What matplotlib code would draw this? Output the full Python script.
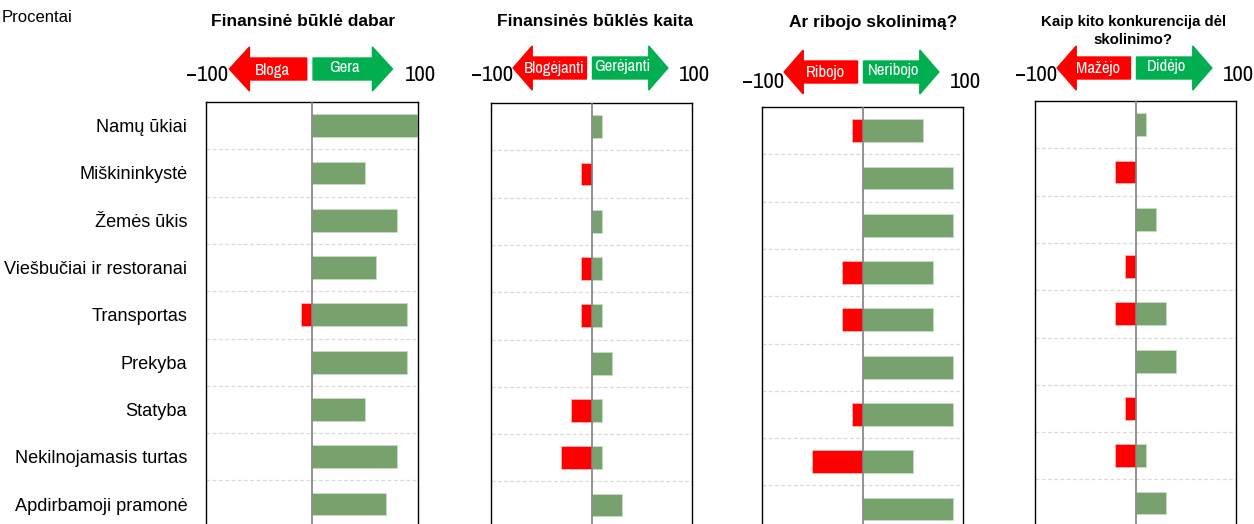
import numpy as np
import matplotlib
matplotlib.use("Agg")
import matplotlib.pyplot as plt
from matplotlib import font_manager
from matplotlib.patches import Polygon
from matplotlib.transforms import blended_transform_factory

# ---- data ----
categories = ["Namų ūkiai", "Miškininkystė", "Žemės ūkis", "Viešbučiai ir restoranai",
              "Transportas", "Prekyba", "Statyba", "Nekilnojamasis turtas",
              "Apdirbamoji pramonė"]

titles = ["Finansinė būklė dabar", "Finansinės būklės kaita", "Ar ribojo skolinimą?",
          "Kaip kito konkurencija dėl\nskolinimo?"]
neg_labels = ["Bloga", "Blogėjanti", "Ribojo", "Mažėjo"]
pos_labels = ["Gera", "Gerėjanti", "Neribojo", "Didėjo"]

# negative (red) and positive (green) answers, percent
neg_now = [0, 0, 0, 0, -10, 0, 0, 0, 0]
pos_now = [100, 50, 80, 60, 90, 90, 50, 80, 70]
neg_change = [0, -10, 0, -10, -10, 0, -20, -30, 0]
pos_change = [10, 0, 10, 10, 10, 20, 10, 10, 30]
neg_restrict = [-10, 0, 0, -20, -20, 0, -10, -50, 0]
pos_restrict = [60, 90, 90, 70, 70, 90, 90, 50, 90]
neg_compet = [0, -20, 0, -10, -20, 0, -10, -20, 0]
pos_compet = [10, 0, 20, 0, 30, 40, 0, 10, 30]

negs = [neg_now, neg_change, neg_restrict, neg_compet]
poss = [pos_now, pos_change, pos_restrict, pos_compet]

# ---- fonts ----
names = {f.name for f in font_manager.fontManager.ttflist}
base = "Liberation Sans" if "Liberation Sans" in names else "DejaVu Sans"
narrow = base
for cand in ["Arial Narrow", "Liberation Sans Narrow", "Archivo Narrow", "Roboto Condensed"]:
    if cand in names:
        narrow = cand
        break
plt.rcParams["font.family"] = [base, "DejaVu Sans"]

RED = "#FF0000"
GREEN_BAR = "#77A26E"
GREEN_ARR = "#00B050"

W, H = 1254, 524
fig = plt.figure(figsize=(W / 100, H / 100), dpi=100)

# panel geometry in pixels: left, right, top
panels = [(206, 418, 102), (491, 692, 103), (762, 963, 107), (1035, 1236, 101)]
row_h = 47.3
title_x = [-8, 3, 11, -2]
title_y = [22, 22, 22, 31]
title_fs = [12.5, 12.5, 12.5, 10.8]
arrow_y = [69, 68, 72, 68]
lim_y = [75, 75, 82, 75]

y = np.arange(len(categories))


def fy(px):
    return 1 - px / H


for i, (l, r, t) in enumerate(panels):
    h = row_h * len(categories)
    ax = fig.add_axes([l / W, 1 - (t + h) / H, (r - l) / W, h / H])
    ax.barh(y, negs[i], height=0.48, color=RED, edgecolor="#ffb3b3", linewidth=0.6, zorder=3)
    ax.barh(y, poss[i], height=0.48, color=GREEN_BAR, edgecolor="#c9dcc5", linewidth=0.6, zorder=3)
    ax.set_xlim(-100, 100)
    ax.set_ylim(len(categories) - 0.5, -0.5)
    ax.axvline(0, color="#808080", lw=1.2, zorder=4)
    for k in range(len(categories) - 1):
        ax.axhline(k + 0.5, color="#d9d9d9", lw=0.9, ls=(0, (3, 2)), zorder=1)
    for s in ax.spines.values():
        s.set_color("black")
        s.set_linewidth(1.0)
    ax.set_xticks([])
    ax.tick_params(axis="y", length=0, pad=13.5)
    if i == 0:
        ax.set_yticks(y)
        ax.set_yticklabels(categories, fontsize=13.1)
    else:
        ax.set_yticks([])

    tr = blended_transform_factory(ax.transData, fig.transFigure)

    yc = arrow_y[i]
    sw, hw, hl = 11, 22, 19
    # red arrow pointing left
    tip, tail = -78, -5
    hb = tip + hl
    red_pts = [(tail, fy(yc - sw)), (hb, fy(yc - sw)), (hb, fy(yc - hw)), (tip, fy(yc)),
               (hb, fy(yc + hw)), (hb, fy(yc + sw)), (tail, fy(yc + sw))]
    ax.add_patch(Polygon(red_pts, closed=True, transform=tr, color=RED, clip_on=False))
    # green arrow pointing right
    tip, tail = 76, 1
    hb = tip - hl
    grn_pts = [(tail, fy(yc - sw)), (hb, fy(yc - sw)), (hb, fy(yc - hw)), (tip, fy(yc)),
               (hb, fy(yc + hw)), (hb, fy(yc + sw)), (tail, fy(yc + sw))]
    ax.add_patch(Polygon(grn_pts, closed=True, transform=tr, color=GREEN_ARR, clip_on=False))

    ax.text(-37, fy(yc + 1), neg_labels[i], transform=tr, ha="center", va="center",
            color="white", fontsize=12, family=narrow)
    ax.text(31, fy(yc - 1), pos_labels[i], transform=tr, ha="center", va="center",
            color="white", fontsize=12, family=narrow)
    ax.text(-99, fy(lim_y[i]), "\u2212100", transform=tr, ha="center", va="center",
            fontsize=16.5, family=[narrow, base])
    ax.text(102, fy(lim_y[i]), "100", transform=tr, ha="center", va="center",
            fontsize=16.5, family=narrow)
    ax.text(title_x[i], fy(title_y[i]), titles[i], transform=tr, ha="center", va="center",
            fontsize=title_fs[i], fontweight="bold", linespacing=1.35)

fig.text(2 / W, 1 - 18 / H, "Procentai", ha="left", va="center", fontsize=12)

fig.savefig("out.png", dpi=100)
